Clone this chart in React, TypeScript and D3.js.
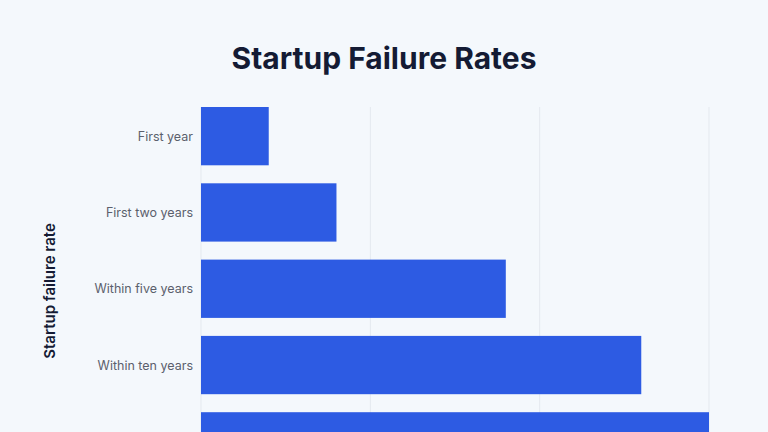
import React from "react";
import * as d3 from "d3";

const categories = ["First year", "First two years", "Within five years", "Within ten years", "Overall"];
const failureRates = [10, 20, 45, 65, 75];
const xTicks = [0, 25, 50, 75];
const title = "Startup Failure Rates";
const yAxisLabel = "Startup failure rate";

const W = 768;
const H = 432;

export default function App() {
  const margin = { left: 201, right: 59, top: 107 };
  const x = d3.scaleLinear().domain([0, 75]).range([margin.left, W - margin.right]);
  const y = d3
    .scaleBand<string>()
    .domain(categories)
    .range([margin.top - 9, margin.top - 9 + 76.3 * categories.length])
    .paddingInner(0.236)
    .paddingOuter(0.118);

  const plotBottom = margin.top + 76.3 * categories.length;

  return (
    <div style={{ position: "fixed", left: 0, top: 0, width: W, height: H, overflow: "hidden" }}>
      <svg width={W} height={H} style={{ display: "block" }}>
        <rect x={0} y={0} width={W} height={H} fill="#f4f8fc" />
        {xTicks.map((t) => (
          <line
            key={t}
            x1={x(t)}
            x2={x(t)}
            y1={margin.top}
            y2={plotBottom}
            stroke="#e4e9ef"
            strokeWidth={1}
          />
        ))}
        {categories.map((c, i) => (
          <rect
            key={c}
            x={x(0)}
            y={y(c)!}
            width={x(failureRates[i]) - x(0)}
            height={y.bandwidth()}
            fill="#2d5be3"
          />
        ))}
        {categories
          .filter((c) => y(c)! + y.bandwidth() / 2 + 8 < H)
          .map((c) => (
            <text
              key={c}
              x={193}
              y={y(c)! + y.bandwidth() / 2}
              textAnchor="end"
              dominantBaseline="central"
              fontFamily="Inter, 'Noto Sans', sans-serif"
              fontSize={12.5}
              fill="#5b606c"
            >
              {c}
            </text>
          ))}
        <text
          transform={`translate(55, 291) rotate(-90)`}
          textAnchor="middle"
          fontFamily="Inter, 'Noto Sans', sans-serif"
          fontWeight={600}
          fontSize={15}
          fill="#141b34"
        >
          {yAxisLabel}
        </text>
        <text
          x={384}
          y={69}
          textAnchor="middle"
          fontFamily="Inter, 'Noto Sans', sans-serif"
          fontWeight={700}
          fontSize={30}
          fill="#141b34"
        >
          {title}
        </text>
      </svg>
    </div>
  );
}
